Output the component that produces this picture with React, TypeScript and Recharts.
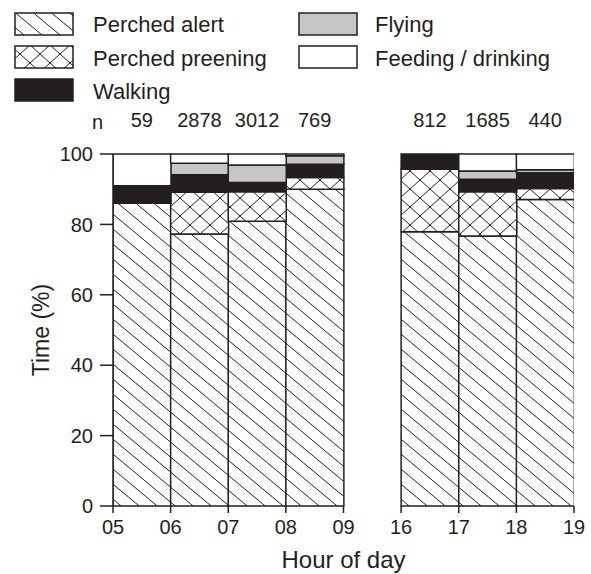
import React from 'react';
import { BarChart, Bar, XAxis, YAxis } from 'recharts';

// ---- data ----
const hourLabels = ['05', '06', '07', '08', '09', '16', '17', '18', '19'];
const slotPositions = [0.5, 1.5, 2.5, 3.5, 5.5, 6.5, 7.5];
const sampleSizes = [59, 2878, 3012, 769, 812, 1685, 440];
const perchedAlert = [86.0, 77.3, 80.9, 90.0, 77.9, 76.7, 87.1];
const perchedPreening = [0, 11.8, 8.4, 3.3, 17.8, 12.6, 3.1];
const walking = [5.0, 5.0, 2.6, 3.8, 4.3, 3.5, 4.5];
const flying = [0, 3.3, 5.0, 2.4, 0, 2.4, 0.8];
const feedingDrinking = [9.0, 2.6, 3.1, 0.5, 0, 4.8, 4.5];
const yTicks = [0, 20, 40, 60, 80, 100];

const INK = '#231f20';
const GRAY = '#c6c6c6';
const FONT = '"Liberation Sans", Arial, Helvetica, sans-serif';

const data = slotPositions.map((pos, i) => ({
  pos,
  n: sampleSizes[i],
  alert: perchedAlert[i],
  preen: perchedPreening[i],
  walk: walking[i],
  fly: flying[i],
  feed: feedingDrinking[i],
}));

function Patterns({ prefix }: { prefix: string }) {
  return (
    <defs>
      <pattern id={`${prefix}-hatch`} patternUnits="userSpaceOnUse" width={18} height={15}>
        <rect x={0} y={0} width={18} height={15} fill="#fff" />
        <path d="M-18,-15 L36,30 M-18,0 L18,30 M0,-15 L36,15" stroke={INK} strokeWidth={1} fill="none" />
      </pattern>
      <pattern id={`${prefix}-cross`} patternUnits="userSpaceOnUse" width={20} height={18}>
        <rect x={0} y={0} width={20} height={18} fill="#fff" />
        <path
          d="M-20,-18 L40,36 M-20,0 L20,36 M0,-18 L40,18 M40,-18 L-20,36 M20,-18 L-20,18 M40,0 L0,36"
          stroke={INK}
          strokeWidth={1}
          fill="none"
        />
      </pattern>
    </defs>
  );
}

const legendItems = [
  { label: 'Perched alert', fill: 'url(#lg-hatch)', x: 15, y: 13, tx: 93, ty: 32 },
  { label: 'Perched preening', fill: 'url(#lg-cross)', x: 15, y: 46, tx: 93, ty: 66 },
  { label: 'Walking', fill: INK, x: 15, y: 79, tx: 93, ty: 99 },
  { label: 'Flying', fill: GRAY, x: 299, y: 13, tx: 375, ty: 32 },
  { label: 'Feeding / drinking', fill: '#fff', x: 299, y: 46, tx: 375, ty: 66 },
];

export default function App() {
  const tickStyle = { fill: INK, fontSize: 20, fontFamily: FONT };
  return (
    <div style={{ position: 'absolute', left: 0, top: 0, width: 591, height: 574 }}>
      <BarChart
        width={591}
        height={574}
        data={data}
        margin={{ top: 90, right: 17, bottom: 0, left: 0 }}
        barCategoryGap={0}
        barGap={0}
      >
        <Patterns prefix="ch" />
        <XAxis
          xAxisId="x"
          dataKey="pos"
          type="number"
          domain={[0, 8]}
          allowDataOverflow
          ticks={[0, 1, 2, 3, 4, 5, 6, 7, 8]}
          interval={0}
          tickFormatter={(v: number) => hourLabels[v]}
          axisLine={false}
          tickLine={{ stroke: INK, strokeWidth: 1.5 }}
          tickSize={7}
          tickMargin={7}
          height={68}
          tick={tickStyle}
          label={{ value: 'Hour of day', position: 'insideBottom', offset: 6, fill: INK, fontSize: 24, fontFamily: FONT }}
        />
        <XAxis
          xAxisId="n"
          dataKey="pos"
          orientation="top"
          type="number"
          domain={[0, 8]}
          allowDataOverflow
          ticks={slotPositions}
          interval={0}
          tickFormatter={(v: number) => String(sampleSizes[slotPositions.indexOf(v)])}
          axisLine={false}
          tickLine={false}
          tickSize={0}
          tickMargin={27}
          height={64}
          tick={tickStyle}
          label={{ value: 'n', position: 'left', offset: 10, fill: INK, fontSize: 20, fontFamily: FONT }}
        />
        <YAxis
          yAxisId="y"
          type="number"
          domain={[0, 100]}
          ticks={yTicks}
          interval={0}
          width={113}
          axisLine={{ stroke: INK, strokeWidth: 1.5 }}
          tickLine={{ stroke: INK, strokeWidth: 1.5 }}
          tickSize={13}
          tickMargin={7}
          tick={tickStyle}
          label={{
            value: 'Time (%)',
            angle: -90,
            position: 'insideLeft',
            offset: 41,
            fill: INK,
            fontSize: 23,
            fontFamily: FONT,
            style: { textAnchor: 'middle' },
          }}
        />
        <Bar xAxisId="x" yAxisId="y" dataKey="alert" stackId="s" fill="url(#ch-hatch)" stroke={INK} strokeWidth={1.5} isAnimationActive={false} />
        <Bar xAxisId="x" yAxisId="y" dataKey="preen" stackId="s" fill="url(#ch-cross)" stroke={INK} strokeWidth={1.5} isAnimationActive={false} />
        <Bar xAxisId="x" yAxisId="y" dataKey="walk" stackId="s" fill={INK} stroke={INK} strokeWidth={1.5} isAnimationActive={false} />
        <Bar xAxisId="x" yAxisId="y" dataKey="fly" stackId="s" fill={GRAY} stroke={INK} strokeWidth={1.5} isAnimationActive={false} />
        <Bar xAxisId="x" yAxisId="y" dataKey="feed" stackId="s" fill="#fff" stroke={INK} strokeWidth={1.5} isAnimationActive={false} />
      </BarChart>
      <svg width={591} height={110} style={{ position: 'absolute', left: 0, top: 0 }}>
        <Patterns prefix="lg" />
        {legendItems.map((it) => (
          <g key={it.label}>
            <rect x={it.x} y={it.y} width={58} height={22} fill={it.fill} stroke={INK} strokeWidth={1.5} />
            <text x={it.tx} y={it.ty} fill={INK} fontSize={22} fontFamily={FONT}>
              {it.label}
            </text>
          </g>
        ))}
      </svg>
    </div>
  );
}
